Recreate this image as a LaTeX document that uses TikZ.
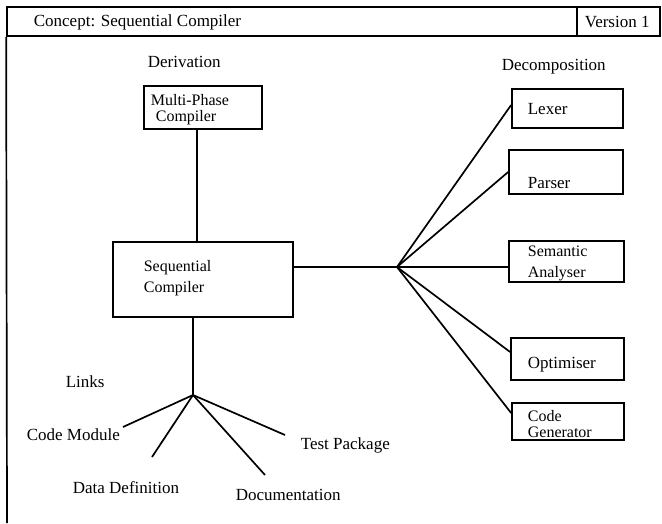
\documentclass[tikz,border=0pt]{standalone}
\usepackage{fontspec}
\setmainfont{Liberation Serif}
\newfontfamily\diagfont{Liberation Serif}
\begin{document}
\begin{tikzpicture}[x=1pt, y=-1pt, line width=1.7pt,
  every node/.style={font=\diagfont\fontsize{17}{17}\selectfont, inner sep=0pt},
  box/.style={draw, rectangle, line width=1.7pt},
  txt/.style={anchor=west, align=left},
  twoline/.style={txt, font=\diagfont\fontsize{16}{#1}\selectfont}]
\useasboundingbox (0,0) rectangle (662,523);

% title bar
\node[box, minimum width=570pt, minimum height=29pt] (title) at (292,21.5) {};
\node[box, minimum width=83pt, minimum height=29pt] (version) at (618.5,21.5) {};
\node[txt] (titletext) at (33,22) {Concept: Sequential Compiler};
\node[txt] (versiontext) at (584,22) {Version 1};
\coordinate (framebottom) at (7,523);
\draw (title.south west) -- (framebottom);

% section headings
\node[txt] (derivation) at (147,62) {Derivation};
\node[txt] (decomposition) at (501,67) {Decomposition};
\node[txt] (links) at (65,382) {Links};

% concept boxes
\node[box, minimum width=118pt, minimum height=43pt] (multi) at (203,107.5) {};
\node[twoline=16pt] (multitext) at (150,110) {Multi-Phase\\\hspace*{5pt}Compiler};

\node[box, minimum width=180pt, minimum height=75pt] (seq) at (203,279.5) {};
\node[twoline=21pt] (seqtext) at (143,278.5) {Sequential\\Compiler};

% decomposition boxes
\node[box, minimum width=111pt, minimum height=39pt] (lexer) at (567.5,108.5) {};
\node[txt] (lexertext) at (527,109) {Lexer};
\node[box, minimum width=114pt, minimum height=44pt] (parser) at (566,172) {};
\node[txt] (parsertext) at (527,183) {Parser};
\node[box, minimum width=115pt, minimum height=41pt] (sem) at (566.5,261.5) {};
\node[twoline=21pt] (semtext) at (527,263.5) {Semantic\\Analyser};
\node[box, minimum width=113pt, minimum height=42pt] (opt) at (567.5,359) {};
\node[txt] (opttext) at (527,365) {Optimiser};
\node[box, minimum width=112pt, minimum height=37pt] (codegen) at (568,421.5) {};
\node[twoline=16pt] (codegentext) at (527,424) {Code\\Generator};

% derivation link
\draw ([xshift=-6pt]multi.south) -- ([xshift=-6pt]seq.north);

% decomposition fan
\coordinate (dhub) at (397,267);
\draw (seq.east |- dhub) -- (dhub);
\draw (dhub) -- ([yshift=3.5pt]lexer.west);
\draw (dhub) -- (parser.west);
\draw (dhub) -- ([yshift=-5.5pt]sem.west);
\draw (dhub) -- ([yshift=7pt]opt.west);
\draw (dhub) -- ([yshift=8.5pt]codegen.west);

% links fan
\coordinate (lhub) at (193,395);
\draw (seq.south -| lhub) -- (lhub);
\node[txt] (codemodule) at (26,435) {Code Module};
\node[txt] (datadef) at (72,488) {Data Definition};
\node[txt] (docs) at (235,495) {Documentation};
\node[txt] (testpkg) at (300,445) {Test Package};
\coordinate (cmend) at (123,427);
\coordinate (ddend) at (152,457);
\coordinate (docend) at (265,475);
\coordinate (tpend) at (285,435);
\draw (lhub) -- (cmend);
\draw (lhub) -- (ddend);
\draw (lhub) -- (docend);
\draw (lhub) -- (tpend);
\end{tikzpicture}
\end{document}
